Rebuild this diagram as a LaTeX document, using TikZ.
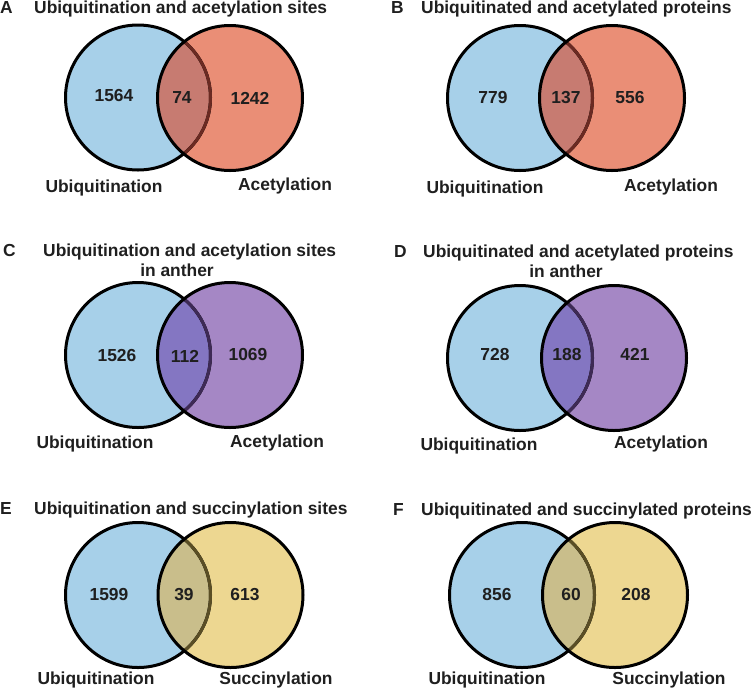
\documentclass[tikz,border=0pt]{standalone}
\usepackage{fontspec}
\setmainfont{Liberation Sans}
\definecolor{ubqblue}{HTML}{A7D0E9}
\definecolor{acered}{HTML}{EA8E76}
\definecolor{acemix}{HTML}{C77B71}
\definecolor{acearc}{HTML}{6B2A22}
\definecolor{acepurple}{HTML}{A587C5}
\definecolor{antmix}{HTML}{8476C2}
\definecolor{antarc}{HTML}{3E2A55}
\definecolor{sucyellow}{HTML}{EDD791}
\definecolor{sucmix}{HTML}{C9BE8B}
\definecolor{sucarc}{HTML}{5A4E25}
% #1 left centre, #2 right centre, #3 right fill, #4 overlap fill, #5 hidden arc
\newcommand\vennpair[5]{%
  \fill[ubqblue] #1 circle[radius=72.5];
  \fill[#3] #2 circle[radius=72.5];
  \begin{scope} \clip #1 circle[radius=72.5]; \fill[#4] #2 circle[radius=72.5]; \end{scope}
  \draw[ring] #1 circle[radius=72.5];
  \begin{scope} \clip #2 circle[radius=72.5]; \draw[ring,#5] #1 circle[radius=72.5]; \end{scope}
  \draw[ring] #2 circle[radius=72.5];
}
\begin{document}
\begin{tikzpicture}[x=1pt,y=-1pt,every node/.style={font=\fontsize{17.4}{20}\selectfont\bfseries,inner sep=0pt,text=black!88},
  ring/.style={line width=3pt,draw=black},
  ttl/.style={anchor=base west},
  num/.style={anchor=base},
  lab/.style={anchor=base}]
\useasboundingbox (0,0) rectangle (752,689);
% A
\vennpair{(138,97.5)}{(230,98)}{acered}{acemix}{acearc}
\node[ttl] (lA) at (0,13) {A}; \node[ttl] (tA) at (34,13) {Ubiquitination and acetylation sites};
\node[num] (nA1) at (114,101.7) {1564}; \node[num] (nA2) at (182,103) {74}; \node[num] (nA3) at (250,104) {1242};
\node[lab] (uA) at (104,192) {Ubiquitination}; \node[lab] (aA) at (285,190) {Acetylation};
% B
\vennpair{(520,98)}{(612,98)}{acered}{acemix}{acearc}
\node[ttl] (lB) at (391,13) {B}; \node[ttl] (tB) at (421,13) {Ubiquitinated and acetylated proteins};
\node[num] (nB1) at (493,103) {779}; \node[num] (nB2) at (566,103) {137}; \node[num] (nB3) at (630,103) {556};
\node[lab] (uB) at (485,193) {Ubiquitination}; \node[lab] (aB) at (671,191) {Acetylation};
% C
\vennpair{(138,355)}{(230,355)}{acepurple}{antmix}{antarc}
\node[ttl] (lC) at (3,256) {C}; \node[ttl] (tC) at (43,256) {Ubiquitination and acetylation sites};
\node[num] (tC2) at (177,276) {in anther};
\node[num] (nC1) at (117,361.7) {1526}; \node[num] (nC2) at (185,362) {112}; \node[num] (nC3) at (248,360) {1069};
\node[lab] (uC) at (95,448) {Ubiquitination}; \node[lab] (aC) at (277,447) {Acetylation};
% D
\vennpair{(520,358)}{(614,358)}{acepurple}{antmix}{antarc}
\node[ttl] (lD) at (394,257) {D}; \node[ttl] (tD) at (423,257) {Ubiquitinated and acetylated proteins};
\node[num] (tD2) at (566,277) {in anther};
\node[num] (nD1) at (495,360) {728}; \node[num] (nD2) at (567,360) {188}; \node[num] (nD3) at (635,360) {421};
\node[lab] (uD) at (479,450) {Ubiquitination}; \node[lab] (aD) at (661,448) {Acetylation};
% E
\vennpair{(138,595)}{(230.5,595)}{sucyellow}{sucmix}{sucarc}
\node[ttl] (lE) at (0,514) {E}; \node[ttl] (tE) at (34,514) {Ubiquitination and succinylation sites};
\node[num] (nE1) at (109,600) {1599}; \node[num] (nE2) at (184,600) {39}; \node[num] (nE3) at (245,600) {613};
\node[lab] (uE) at (96,684) {Ubiquitination}; \node[lab] (sE) at (276,684) {Succinylation};
% F
\vennpair{(522,595)}{(615,595)}{sucyellow}{sucmix}{sucarc}
\node[ttl] (lF) at (393,515) {F}; \node[ttl] (tF) at (421,515) {Ubiquitinated and succinylated proteins};
\node[num] (nF1) at (497,600) {856}; \node[num] (nF2) at (571,600) {60}; \node[num] (nF3) at (636,600) {208};
\node[lab] (uF) at (487,684) {Ubiquitination}; \node[lab] (sF) at (669,684) {Succinylation};
\end{tikzpicture}
\end{document}
